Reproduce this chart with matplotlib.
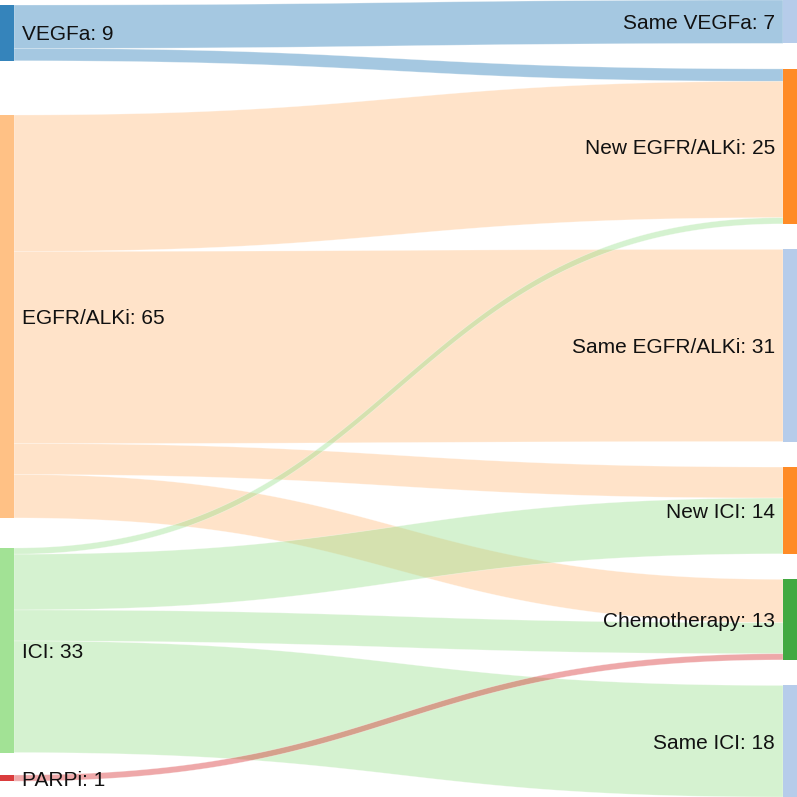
import numpy as np
import matplotlib.pyplot as plt
from matplotlib.patches import Polygon, Rectangle

# Данные: узлы слева и справа
src_names = ['VEGFa', 'EGFR/ALKi', 'ICI', 'PARPi']
tgt_names = ['Same VEGFa', 'New EGFR/ALKi', 'Same EGFR/ALKi', 'New ICI', 'Chemotherapy', 'Same ICI']

# Потоки (источник -> цель -> значение)
link_src = [0, 0, 1, 1, 1, 1, 2, 2, 2, 2, 3]
link_tgt = [0, 1, 1, 2, 3, 4, 1, 3, 4, 5, 4]
link_val = [7, 2, 22, 31, 5, 7, 1, 9, 5, 18, 1]

# Цвета
src_colors = ['#1f77b4', '#ffbb78', '#98df8a', '#d62728']
tgt_colors = ['#aec7e8', '#ff7f0e', '#aec7e8', '#ff7f0e', '#2ca02c', '#aec7e8']

# Геометрия (в пикселях)
W = H = 797
node_w = 14
gap = 25.5
total = sum(link_val)
scale = (H - gap * (len(tgt_names) - 1)) / total
left_tops = [5, 115, 548, 775]

src_val = [sum(v for s, v in zip(link_src, link_val) if s == i) for i in range(len(src_names))]
tgt_val = [sum(v for t, v in zip(link_tgt, link_val) if t == j) for j in range(len(tgt_names))]

right_tops = []
y = 0
for v in tgt_val:
    right_tops.append(y)
    y += v * scale + gap

fig = plt.figure(figsize=(W / 100, H / 100), dpi=100)
ax = fig.add_axes([0, 0, 1, 1])
ax.set_xlim(0, W)
ax.set_ylim(H, 0)
ax.axis('off')

# Смещения внутри узлов
src_off = list(left_tops)
tgt_off = list(right_tops)
order = sorted(range(len(link_val)), key=lambda k: (link_src[k], link_tgt[k]))
src_pos = {}
for k in order:
    s = link_src[k]
    src_pos[k] = src_off[s]
    src_off[s] += link_val[k] * scale
order_t = sorted(range(len(link_val)), key=lambda k: (link_tgt[k], link_src[k]))
tgt_pos = {}
for k in order_t:
    t = link_tgt[k]
    tgt_pos[k] = tgt_off[t]
    tgt_off[t] += link_val[k] * scale

x0, x1 = node_w, W - node_w
xm = (x0 + x1) / 2
tt = np.linspace(0, 1, 120)


def bez(a, b):
    xs = (1 - tt) ** 3 * x0 + 3 * (1 - tt) ** 2 * tt * xm + 3 * (1 - tt) * tt ** 2 * xm + tt ** 3 * x1
    ys = (1 - tt) ** 3 * a + 3 * (1 - tt) ** 2 * tt * a + 3 * (1 - tt) * tt ** 2 * b + tt ** 3 * b
    return xs, ys


for k in range(len(link_val)):
    h = link_val[k] * scale
    xa, ya = bez(src_pos[k], tgt_pos[k])
    xb, yb = bez(src_pos[k] + h, tgt_pos[k] + h)
    pts = np.vstack([np.column_stack([xa, ya]), np.column_stack([xb[::-1], yb[::-1]])])
    ax.add_patch(Polygon(pts, closed=True, facecolor=src_colors[link_src[k]], alpha=0.4,
                         edgecolor='white', linewidth=0.5, zorder=1))

# Узлы
for i, name in enumerate(src_names):
    h = src_val[i] * scale
    ax.add_patch(Rectangle((0, left_tops[i]), node_w, h, facecolor=src_colors[i], alpha=0.9, zorder=2))
    ax.text(22, left_tops[i] + h / 2, f'{name}: {src_val[i]}', ha='left', va='center_baseline',
            fontsize=15, family='Liberation Sans', color='#111111', zorder=3)

for j, name in enumerate(tgt_names):
    h = tgt_val[j] * scale
    ax.add_patch(Rectangle((W - node_w, right_tops[j]), node_w, h, facecolor=tgt_colors[j], alpha=0.9, zorder=2))
    ax.text(W - 22, right_tops[j] + h / 2, f'{name}: {tgt_val[j]}', ha='right', va='center_baseline',
            fontsize=15, family='Liberation Sans', color='#111111', zorder=3)

plt.savefig('out.png', dpi=100)
